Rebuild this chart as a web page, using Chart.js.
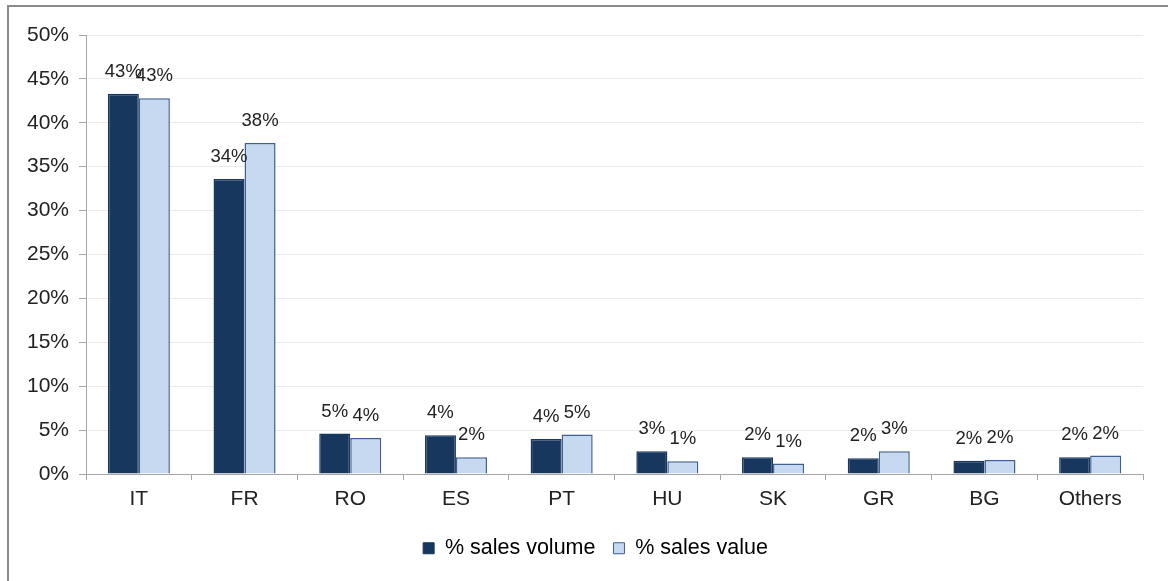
<!DOCTYPE html>
<html>
<head>
<meta charset="utf-8">
<script src="https://cdn.jsdelivr.net/npm/chart.js@4"></script>
<style>
  html, body { margin: 0; padding: 0; background: #fff; }
  #frame { position: absolute; left: 7px; top: 5px; width: 1161px; height: 576px;
           border-left: 2px solid #8c8c8c; border-top: 2px solid #8c8c8c; }
  #wrap { position: absolute; left: 0; top: 0; width: 1168px; height: 581px; }
</style>
</head>
<body>
<div id="frame"></div>
<div id="wrap"><canvas id="myChart" width="1168" height="581"></canvas></div>
<script>
// data
const countries = ["IT", "FR", "RO", "ES", "PT", "HU", "SK", "GR", "BG", "Others"];
const salesVolume = [43.3, 33.6, 4.6, 4.4, 4.0, 2.6, 1.9, 1.8, 1.5, 1.9];
const salesValue = [42.8, 37.7, 4.1, 1.9, 4.5, 1.45, 1.2, 2.6, 1.6, 2.1];
const yTicks = [0, 5, 10, 15, 20, 25, 30, 35, 40, 45, 50];

const axisGrey = '#a6a6a6';
const textCol = '#222222';
const fontFam = '"Liberation Sans", Arial, sans-serif';

// labels above each bar (rounded %)
const barLabels = {
  id: 'barLabels',
  afterDatasetsDraw(chart) {
    const ctx = chart.ctx;
    ctx.save();
    ctx.font = '18.5px ' + fontFam;
    ctx.fillStyle = textCol;
    ctx.textAlign = 'center';
    ctx.textBaseline = 'middle';
    chart.data.datasets.forEach((ds, i) => {
      chart.getDatasetMeta(i).data.forEach((bar, j) => {
        ctx.fillText(Math.round(ds.data[j]) + '%', bar.x, bar.y - 22);
      });
    });
    ctx.restore();
  }
};

// legend sits centred on the plot, not on the whole canvas
const legendShift = {
  id: 'legendShift',
  afterLayout(chart) {
    chart.legend.left += 24;
    chart.legend.right += 24;
  }
};

const ctx = document.getElementById('myChart').getContext('2d');
const myChart = new Chart(ctx, {
  type: 'bar',
  data: {
    labels: countries,
    datasets: [{
      label: '% sales volume',
      data: salesVolume,
      backgroundColor: '#17375e',
      borderColor: '#17375e',
      borderWidth: 1.5
    },
    {
      label: '% sales value',
      data: salesValue,
      backgroundColor: '#c6d9f1',
      borderColor: '#3f5f8f',
      borderWidth: 1.5
    }]
  },
  options: {
    responsive: false,
    animation: false,
    categoryPercentage: 0.587,
    barPercentage: 1.0,
    layout: { padding: { left: 0, right: 25, top: 35, bottom: 12 } },
    plugins: {
      legend: {
        position: 'bottom',
        labels: {
          boxWidth: 11,
          boxHeight: 11,
          padding: 18,
          color: textCol,
          font: { size: 21.5, family: fontFam },
          generateLabels(chart) {
            return chart.data.datasets.map((ds, i) => ({
              text: ds.label,
              fillStyle: ds.backgroundColor,
              strokeStyle: ds.borderColor,
              lineWidth: 1,
              datasetIndex: i
            }));
          }
        }
      },
      tooltip: { enabled: false }
    },
    scales: {
      x: {
        afterFit(scale) { scale.height = 45.5; },
        grid: { drawOnChartArea: false, color: axisGrey, tickLength: 6 },
        border: { color: axisGrey },
        ticks: { color: textCol, font: { size: 21, family: fontFam }, padding: 7, maxRotation: 0 }
      },
      y: {
        min: 0,
        max: 50,
        afterFit(scale) { scale.width = 86; },
        afterBuildTicks(scale) { scale.ticks = yTicks.map(v => ({ value: v })); },
        grid: { color: '#ebebeb', tickColor: axisGrey, tickLength: 7 },
        border: { color: axisGrey },
        ticks: {
          color: textCol,
          font: { size: 21, family: fontFam },
          padding: 10,
          callback: v => v + '%'
        }
      }
    }
  },
  plugins: [barLabels, legendShift]
});
</script>
</body>
</html>
